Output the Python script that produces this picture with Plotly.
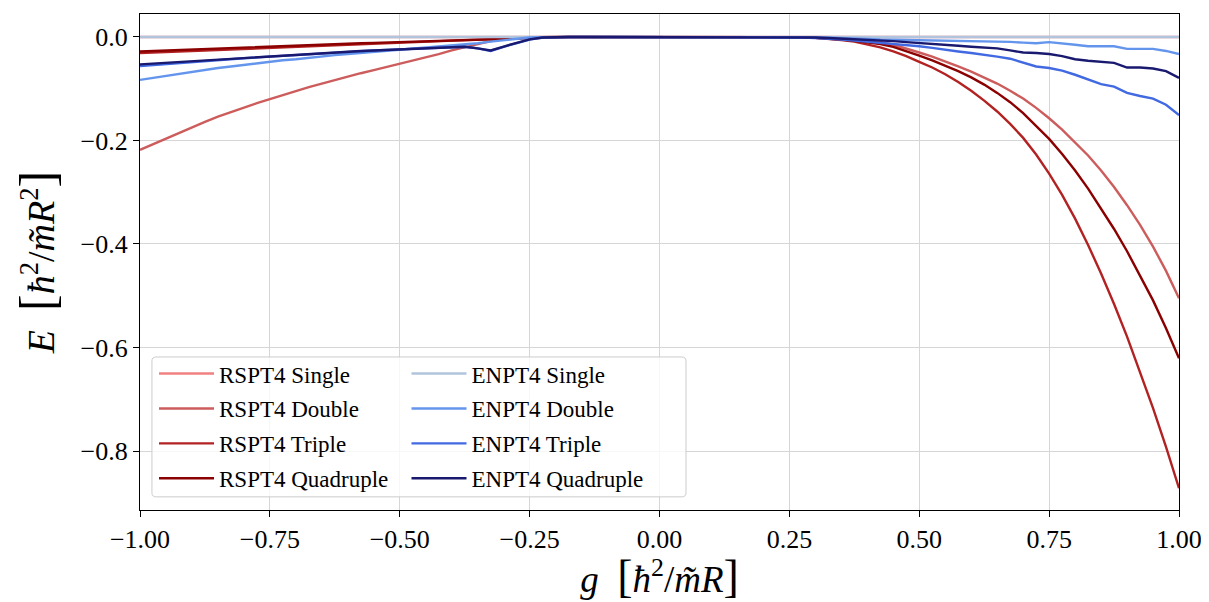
import plotly.graph_objects as go

# ---------------- data ----------------
g = [
    -1.0, -0.975, -0.95, -0.925, -0.9, -0.875, -0.85, -0.825, -0.8, -0.775,
    -0.75, -0.725, -0.7, -0.675, -0.65, -0.625, -0.6, -0.575, -0.55, -0.525,
    -0.5, -0.475, -0.45, -0.425, -0.4, -0.375, -0.35, -0.325, -0.3, -0.275,
    -0.25, -0.225, -0.2, -0.175, -0.15, -0.125, -0.1, -0.075, -0.05, -0.025,
    0.0, 0.025, 0.05, 0.075, 0.1, 0.125, 0.15, 0.175, 0.2, 0.225,
    0.25, 0.275, 0.3, 0.325, 0.35, 0.375, 0.4, 0.425, 0.45, 0.475,
    0.5, 0.525, 0.55, 0.575, 0.6, 0.625, 0.65, 0.675, 0.7, 0.725,
    0.75, 0.775, 0.8, 0.825, 0.85, 0.875, 0.9, 0.925, 0.95, 0.975,
    1.0,
]

rspt_single = [
    0, 0, 0, 0, 0, 0, 0, 0, 0, 0,
    0, 0, 0, 0, 0, 0, 0, 0, 0, 0,
    0, 0, 0, 0, 0, 0, 0, 0, 0, 0,
    0, 0, 0, 0, 0, 0, 0, 0, 0, 0,
    0, 0, 0, 0, 0, 0, 0, 0, 0, 0,
    0, 0, 0, 0, 0, 0, 0, 0, 0, 0,
    0, 0, 0, 0, 0, 0, 0, 0, 0, 0,
    0, 0, 0, 0, 0, 0, 0, 0, 0, 0,
    0,
]

rspt_double = [
    -0.218, -0.207, -0.196, -0.185, -0.174, -0.164, -0.154, -0.145, -0.137, -0.128,
    -0.120, -0.112, -0.104, -0.097, -0.090, -0.083, -0.076, -0.070, -0.064, -0.058,
    -0.052, -0.046, -0.039, -0.033, -0.026, -0.020, -0.014, -0.008, -0.004, -0.0015,
    -0.0005, -0.0001, 0, 0, 0, 0, 0, 0, 0, 0,
    0, 0, 0, 0, 0, 0, 0, 0, 0, 0,
    0, -0.0003, -0.001, -0.002, -0.003, -0.005, -0.007, -0.0097, -0.015, -0.022,
    -0.030, -0.038, -0.047, -0.057, -0.067, -0.078, -0.090, -0.104, -0.119, -0.137,
    -0.157, -0.179, -0.203, -0.229, -0.258, -0.290, -0.325, -0.363, -0.405, -0.452,
    -0.505,
]

rspt_triple = [
    -0.031, -0.030, -0.029, -0.028, -0.027, -0.0255, -0.0245, -0.0235, -0.0225, -0.021,
    -0.020, -0.019, -0.018, -0.017, -0.016, -0.015, -0.014, -0.013, -0.012, -0.011,
    -0.010, -0.0095, -0.009, -0.008, -0.007, -0.006, -0.005, -0.004, -0.003, -0.002,
    -0.001, -0.0003, 0, 0, 0, 0, 0, 0, 0, 0,
    0, 0, 0, 0, 0, 0, 0, 0, 0, 0,
    0, -0.0006, -0.0018, -0.0035, -0.006, -0.009, -0.014, -0.020, -0.028, -0.037,
    -0.048, -0.059, -0.072, -0.087, -0.104, -0.123, -0.144, -0.168, -0.195, -0.227,
    -0.264, -0.305, -0.351, -0.402, -0.457, -0.516, -0.579, -0.646, -0.717, -0.792,
    -0.872,
]

rspt_quadruple = [
    -0.028, -0.027, -0.026, -0.025, -0.024, -0.023, -0.022, -0.021, -0.020, -0.019,
    -0.018, -0.017, -0.016, -0.0152, -0.0145, -0.0137, -0.013, -0.0122, -0.0114, -0.0106,
    -0.0098, -0.009, -0.0083, -0.0075, -0.0068, -0.006, -0.005, -0.004, -0.003, -0.002,
    -0.001, -0.0003, 0, 0, 0, 0, 0, 0, 0, 0,
    0, 0, 0, 0, 0, 0, 0, 0, 0, 0,
    0, -0.0005, -0.0015, -0.003, -0.005, -0.0075, -0.010, -0.0135, -0.019, -0.027,
    -0.036, -0.045, -0.055, -0.066, -0.078, -0.092, -0.108, -0.126, -0.147, -0.171,
    -0.197, -0.226, -0.258, -0.293, -0.331, -0.371, -0.414, -0.460, -0.509, -0.563,
    -0.621,
]

enpt_single = [
    0, 0, 0, 0, 0, 0, 0, 0, 0, 0,
    0, 0, 0, 0, 0, 0, 0, 0, 0, 0,
    0, 0, 0, 0, 0, 0, 0, 0, 0, 0,
    0, 0, 0, 0, 0, 0, 0, 0, 0, 0,
    0, 0, 0, 0, 0, 0, 0, 0, 0, 0,
    0, 0, 0, 0, 0, 0, 0, 0, 0, 0,
    0, 0, 0, 0, 0, 0, 0, 0, 0, 0,
    0, 0, 0, 0, 0, 0, 0, 0, 0, 0,
    0,
]

enpt_double = [
    -0.083, -0.079, -0.075, -0.071, -0.067, -0.063, -0.060, -0.057, -0.054, -0.050,
    -0.047, -0.045, -0.043, -0.040, -0.038, -0.035, -0.033, -0.031, -0.029, -0.027,
    -0.025, -0.023, -0.021, -0.019, -0.017, -0.015, -0.012, -0.009, -0.006, -0.003,
    -0.001, -0.0003, 0, 0, 0, 0, 0, 0, 0, 0,
    0, 0, 0, 0, 0, 0, 0, 0, 0, 0,
    0, -0.0003, -0.001, -0.0015, -0.002, -0.003, -0.004, -0.005, -0.0055, -0.006,
    -0.006, -0.0063, -0.0066, -0.007, -0.007, -0.0075, -0.008, -0.0095, -0.011, -0.012,
    -0.010, -0.012, -0.015, -0.018, -0.018, -0.018, -0.023, -0.023, -0.023, -0.027,
    -0.033,
]

enpt_triple = [
    -0.056, -0.054, -0.052, -0.050, -0.048, -0.0465, -0.045, -0.043, -0.041, -0.0395,
    -0.038, -0.036, -0.0345, -0.033, -0.031, -0.0295, -0.028, -0.027, -0.026, -0.025,
    -0.024, -0.023, -0.022, -0.021, -0.020, -0.019, -0.022, -0.027, -0.019, -0.012,
    -0.005, -0.001, 0, 0, 0, 0, 0, 0, 0, 0,
    0, 0, 0, 0, 0, 0, 0, 0, 0, 0,
    0, -0.001, -0.002, -0.003, -0.005, -0.007, -0.009, -0.0115, -0.013, -0.016,
    -0.018, -0.021, -0.025, -0.028, -0.031, -0.034, -0.038, -0.042, -0.049, -0.057,
    -0.060, -0.065, -0.073, -0.082, -0.091, -0.096, -0.108, -0.114, -0.119, -0.131,
    -0.151,
]

enpt_quadruple = [
    -0.053, -0.0515, -0.050, -0.048, -0.0465, -0.045, -0.0435, -0.042, -0.040, -0.0385,
    -0.037, -0.0355, -0.034, -0.032, -0.031, -0.029, -0.028, -0.027, -0.026, -0.025,
    -0.024, -0.023, -0.022, -0.021, -0.020, -0.019, -0.022, -0.026, -0.0185, -0.0115,
    -0.0045, -0.001, 0, 0, 0, 0, 0, 0, 0, 0,
    0, 0, 0, 0, 0, 0, 0, 0, 0, 0,
    0, -0.0005, -0.001, -0.002, -0.003, -0.004, -0.0055, -0.007, -0.008, -0.010,
    -0.0115, -0.013, -0.015, -0.017, -0.019, -0.020, -0.022, -0.026, -0.030, -0.031,
    -0.033, -0.037, -0.043, -0.046, -0.048, -0.050, -0.059, -0.059, -0.061, -0.066,
    -0.079,
]

rspt_names = ["RSPT4 Single", "RSPT4 Double", "RSPT4 Triple", "RSPT4 Quadruple"]
enpt_names = ["ENPT4 Single", "ENPT4 Double", "ENPT4 Triple", "ENPT4 Quadruple"]
rspt_colors = ["#F08080", "#CD5C5C", "#B22222", "#8B0000"]
enpt_colors = ["#B0C4DE", "#6495ED", "#4169E1", "#191970"]

x_tickvals = [-1.0, -0.75, -0.5, -0.25, 0.0, 0.25, 0.5, 0.75, 1.0]
x_ticktext = ["\u22121.00", "\u22120.75", "\u22120.50", "\u22120.25", "0.00", "0.25", "0.50", "0.75", "1.00"]
y_tickvals = [0.0, -0.2, -0.4, -0.6, -0.8]
y_ticktext = ["0.0", "\u22120.2", "\u22120.4", "\u22120.6", "\u22120.8"]

FONT = "Liberation Serif"

fig = go.Figure()
rspt_series = [rspt_single, rspt_double, rspt_triple, rspt_quadruple]
enpt_series = [enpt_single, enpt_double, enpt_triple, enpt_quadruple]

for i, (name, col, ys) in enumerate(zip(rspt_names, rspt_colors, rspt_series)):
    fig.add_trace(go.Scatter(x=g, y=ys, mode="lines", name=name,
                             line=dict(color=col, width=2.4),
                             legend="legend", legendgroup="r%d" % i))
for i, (name, col, ys) in enumerate(zip(enpt_names, enpt_colors, enpt_series)):
    fig.add_trace(go.Scatter(x=g, y=ys, mode="lines", name=name,
                             line=dict(color=col, width=2.4),
                             legend="legend2", legendgroup="e%d" % i))

legend_common = dict(
    bgcolor="rgba(0,0,0,0)", borderwidth=0,
    font=dict(family=FONT, size=23, color="black"),
    traceorder="grouped", tracegroupgap=2, itemwidth=55,
    xanchor="left", yanchor="bottom",
)

# figure is offset 8px by page margin: plot area spans x 140..1179, y 14..510 on screen
fig.update_layout(
    width=1201, height=594,
    margin=dict(l=132, r=30, t=6, b=92),
    paper_bgcolor="white", plot_bgcolor="white",
    font=dict(family=FONT, size=26, color="black"),
    showlegend=True,
    legend=dict(x=0.0135, y=0.02, **legend_common),
    legend2=dict(x=0.2565, y=0.02, **legend_common),
    shapes=[dict(
        type="path", xref="paper", yref="paper", layer="above",
        path="M 0.0155,0.3085 L 0.5215,0.3085 Q 0.5255,0.3085 0.5255,0.3005 "
             "L 0.5255,0.0345 Q 0.5255,0.0265 0.5215,0.0265 L 0.0155,0.0265 "
             "Q 0.0115,0.0265 0.0115,0.0345 L 0.0115,0.3005 Q 0.0115,0.3085 0.0155,0.3085 Z",
        line=dict(color="#cccccc", width=1), fillcolor="rgba(255,255,255,0.8)",
    )],
)

BRX = "<span style='font-size:46px'>[</span>"
BRXC = "<span style='font-size:46px'>]</span>"
BRY = "<span style='font-size:50px'>[</span>"
BRYC = "<span style='font-size:50px'>]</span>"
fig.update_xaxes(
    range=[-1, 1], tickvals=x_tickvals, ticktext=x_ticktext,
    showgrid=True, gridcolor="#d6d6d6", gridwidth=1.2, zeroline=False,
    showline=True, linecolor="black", linewidth=1.2, mirror=True,
    ticks="outside", ticklen=6, tickcolor="black", tickwidth=1.2,
    tickfont=dict(family=FONT, size=26),
    title=dict(text="<i>g</i>  " + BRX + "<i>\u0127</i><sup>2</sup>/<i>m\u0303R</i>" + BRXC,
               font=dict(family=FONT, size=37), standoff=2),
)
fig.update_yaxes(
    range=[-0.914, 0.0444], tickvals=y_tickvals, ticktext=y_ticktext,
    showgrid=True, gridcolor="#d6d6d6", gridwidth=1.2, zeroline=False,
    showline=True, linecolor="black", linewidth=1.2, mirror=True,
    ticks="outside", ticklen=6, tickcolor="black", tickwidth=1.2,
    tickfont=dict(family=FONT, size=26),
    title=dict(text="<i>E</i>  " + BRY + "<i>\u0127</i><sup>2</sup>/<i>m\u0303R</i><sup>2</sup>" + BRYC,
               font=dict(family=FONT, size=38), standoff=14),
)

fig.write_html("out.html")
